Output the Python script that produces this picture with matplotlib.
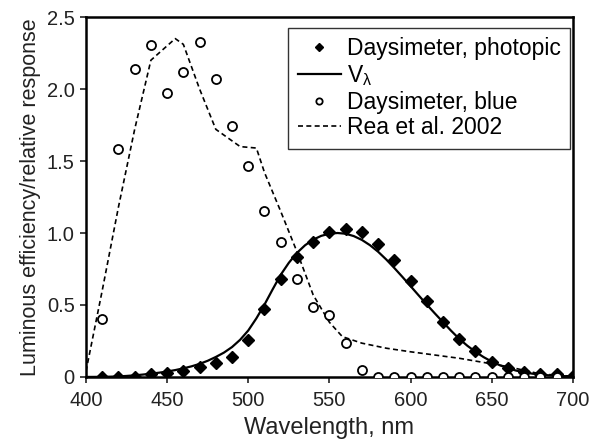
import matplotlib
matplotlib.use('Agg')
import matplotlib.pyplot as plt
import numpy as np

plt.rcParams['font.family'] = ['Liberation Sans', 'DejaVu Sans']
plt.rcParams['mathtext.fontset'] = 'custom'
plt.rcParams['mathtext.rm'] = 'Liberation Sans'
plt.rcParams['mathtext.it'] = 'Liberation Sans'

# Daysimeter photopic (diamonds), 410-700 nm
wl_pts = list(range(410, 701, 10))
photopic = [0.0, 0.0, 0.0, 0.02, 0.03, 0.04, 0.07, 0.10, 0.14, 0.255,
            0.475, 0.68, 0.83, 0.94, 1.005, 1.025, 1.01, 0.925, 0.815, 0.665,
            0.53, 0.38, 0.265, 0.178, 0.106, 0.06, 0.035, 0.02, 0.018, 0.005]

# Daysimeter blue (open circles), 410-690 nm
wl_blue = list(range(410, 691, 10))
blue = [0.40, 1.58, 2.14, 2.305, 1.975, 2.12, 2.325, 2.07, 1.74, 1.465,
        1.155, 0.935, 0.68, 0.487, 0.433, 0.234, 0.049, 0.0, 0.0, 0.0,
        0.0, 0.0, 0.0, 0.0, 0.0, 0.0, 0.0, 0.0, 0.0]

# CIE V(lambda), 400-700 nm every 5 nm
wl_v = list(range(400, 701, 5))
v_lambda = [0.0004, 0.00064, 0.0012, 0.00218, 0.004, 0.0073, 0.0116, 0.0168,
            0.023, 0.0298, 0.038, 0.048, 0.06, 0.0739, 0.091, 0.1126, 0.139,
            0.1693, 0.208, 0.2586, 0.323, 0.4073, 0.503, 0.6082, 0.71, 0.7932,
            0.862, 0.9149, 0.954, 0.9803, 0.995, 1.0, 0.995, 0.9786, 0.952,
            0.9154, 0.87, 0.8163, 0.757, 0.6949, 0.631, 0.5668, 0.503, 0.4412,
            0.381, 0.321, 0.265, 0.217, 0.175, 0.1382, 0.107, 0.0816, 0.061,
            0.0446, 0.032, 0.0232, 0.017, 0.0119, 0.0082, 0.0059, 0.0041]

# Rea et al. 2002 (dashed)
wl_rea = [400, 410, 420, 430, 440, 455, 460, 470, 480, 495, 505, 510, 520,
          530, 540, 550, 558, 570, 585, 600, 630, 660, 680, 700]
rea = [0.04, 0.6, 1.18, 1.72, 2.2, 2.35, 2.31, 2.0, 1.72, 1.6, 1.59, 1.42,
       1.15, 0.87, 0.57, 0.38, 0.28, 0.235, 0.2, 0.175, 0.13, 0.072, 0.021,
       0.005]

fig = plt.figure(figsize=(5.93, 4.43), dpi=100)
ax = fig.add_axes([0.145, 0.149, 0.821, 0.8126])

ax.plot(wl_pts, photopic, linestyle='none', marker='D', markersize=6,
        color='black', label='Daysimeter, photopic', zorder=4)
ax.plot(wl_v, v_lambda, color='black', linewidth=1.6,
        label=r'V$_\lambda$', zorder=3)
ax.plot(wl_blue, blue, linestyle='none', marker='o', markersize=6.5,
        markerfacecolor='white', markeredgecolor='black',
        markeredgewidth=1.3, label='Daysimeter, blue', zorder=4)
ax.plot(wl_rea, rea, color='black', linewidth=1.2, dashes=(3, 2),
        label='Rea et al. 2002', zorder=2)

ax.set_xlim(400, 700)
ax.set_ylim(0, 2.5)
ax.set_xticks(np.arange(400, 701, 50))
ax.set_yticks([0, 0.5, 1.0, 1.5, 2.0, 2.5])
ax.set_yticklabels(['0', '0.5', '1.0', '1.5', '2.0', '2.5'])
ax.tick_params(direction='out', length=4, width=1.2, labelsize=14.5,
               colors='#222222', pad=4)
ax.tick_params(axis='x', pad=6)
for s in ax.spines.values():
    s.set_linewidth(1.8)

ax.set_xlabel('Wavelength, nm', fontsize=17, color='#222222', labelpad=5)
ax.set_ylabel('Luminous efficiency/relative response', fontsize=15.5,
              color='#222222', labelpad=4)

leg = ax.legend(loc='upper right', bbox_to_anchor=(0.994, 0.969),
                fontsize=16.5, frameon=True, fancybox=False,
                borderaxespad=0, handlelength=1.9, handletextpad=0.25,
                labelspacing=0.12, borderpad=0.4, markerscale=0.7)
leg.get_frame().set_edgecolor('black')
leg.get_frame().set_linewidth(1.0)

fig.savefig('out.png', dpi=100)
